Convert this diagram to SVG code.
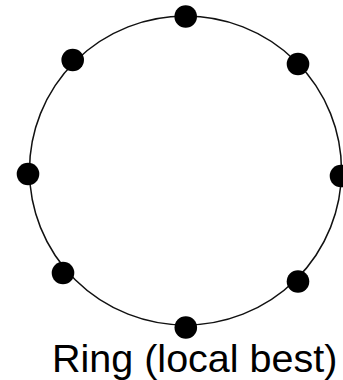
<svg xmlns="http://www.w3.org/2000/svg" width="343" height="380" viewBox="0 0 343 380">
<style>
.ring{fill:none;stroke:#111;stroke-width:1.5}
.dot{fill:#000}
.lbl{font-family:"Liberation Sans",Arial,sans-serif;font-size:39.5px;fill:#000}
</style>
<rect width="343" height="380" fill="#fff"/>
<g id="connectors">
<ellipse class="ring" cx="185.5" cy="170.5" rx="156" ry="154.5"/>
</g>
<g id="n1"><circle class="dot" cx="185.7" cy="16.5" r="11.3"/></g>
<g id="n2"><circle class="dot" cx="298" cy="64" r="11.3"/></g>
<g id="n3"><circle class="dot" cx="341" cy="176" r="11.3"/></g>
<g id="n4"><circle class="dot" cx="298" cy="281.5" r="11.3"/></g>
<g id="n5"><circle class="dot" cx="185.8" cy="327.5" r="11.3"/></g>
<g id="n6"><circle class="dot" cx="63" cy="273" r="11.3"/></g>
<g id="n7"><circle class="dot" cx="28" cy="174" r="11.3"/></g>
<g id="n8"><circle class="dot" cx="72.7" cy="60" r="11.3"/></g>
<text class="lbl" x="52" y="372">Ring (local best)</text>
</svg>
